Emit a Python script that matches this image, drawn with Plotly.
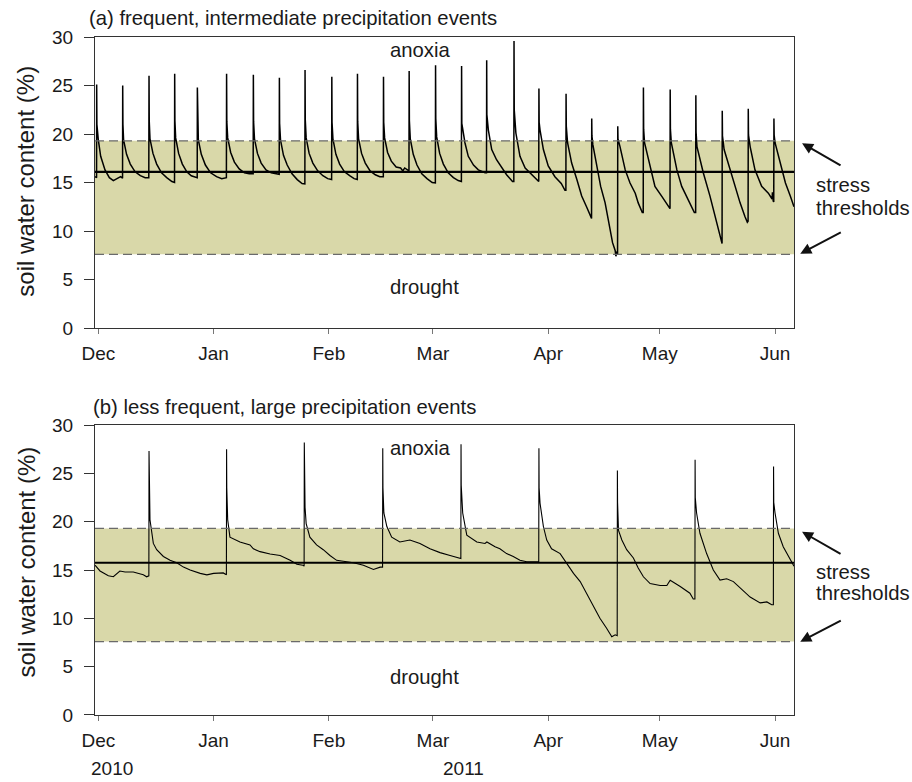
import numpy as np
import pandas as pd
import plotly.graph_objects as go

# ---------------- data (days since 2010-12-01, soil water content %) ----------------
a_day = [
    -0.89, -0.47, -0.44, -0.38, 0.0, 0.64, 1.8, 2.97, 4.05, 5.4, 6.0, 6.52,
    6.56, 6.62, 6.8, 7.6, 8.6, 9.9, 11.3, 12.6, 13.58,
    13.64, 13.7, 13.9, 14.7, 15.7, 17.0, 18.4, 19.8, 20.5,
    20.54, 20.6, 20.8, 21.6, 22.6, 23.8, 25.0, 26.0, 26.6,
    26.64, 26.7, 26.9, 27.7, 28.8, 30.2, 31.8, 33.2, 34.45,
    34.5, 34.56, 34.8, 35.6, 36.6, 37.9, 39.3, 40.6, 41.65,
    41.7, 41.76, 42.0, 42.8, 43.8, 45.1, 46.5, 47.7, 48.65,
    48.7, 48.76, 49.0, 49.8, 50.8, 52.1, 53.5, 54.8, 55.55,
    55.6, 55.66, 55.9, 56.7, 57.7, 59.0, 60.4, 61.7, 62.75,
    62.8, 62.86, 63.1, 63.9, 64.9, 66.2, 67.6, 68.8, 69.65,
    69.7, 69.76, 70.0, 70.8, 71.8, 73.1, 74.5, 75.7, 76.65,
    76.7, 76.76, 77.0, 77.8, 78.8, 80.1, 81.3, 81.9, 82.4, 83.55,
    83.6, 83.66, 83.9, 84.7, 85.7, 87.0, 88.4, 89.8, 90.65,
    90.7, 90.76, 91.0, 91.8, 92.8, 94.1, 95.5, 96.8, 97.65,
    97.7, 97.76, 98.6, 99.5, 100.9, 102.2, 104.0, 104.4,
    104.45, 104.5, 104.9, 105.8, 107.1, 108.0, 109.8, 111.4, 111.75,
    111.8, 111.86, 112.3, 113.4, 114.8, 116.1, 118.2, 118.45,
    118.5, 118.56, 118.8, 119.7, 121.0, 122.8, 124.5, 125.5, 125.75,
    125.8, 125.86, 126.2, 127.3, 128.7, 130.0, 131.3, 132.4, 132.65,
    132.7, 132.76, 133.0, 133.9, 135.1, 136.3, 137.4, 138.3, 139.0, 139.2, 139.5, 139.65,
    139.7, 139.76, 140.3, 141.7, 143.0, 144.4, 145.2, 146.3, 146.55,
    146.6, 146.66, 146.9, 148.4, 149.7, 151.5, 153.3, 153.75,
    153.8, 153.86, 154.1, 155.6, 156.9, 158.7, 160.3, 160.65,
    160.7, 160.76, 161.0, 162.7, 164.5, 165.9, 166.8, 167.6, 167.75,
    167.8, 167.86, 168.3, 169.9, 171.2, 172.6, 173.9, 174.55, 174.75,
    174.8, 174.86, 175.3, 176.6, 178.4, 180.2, 181.2, 181.3, 181.5, 181.65,
    181.7, 181.76, 182.0, 183.4, 184.8, 186.1, 187.1,
]
a_swc = [
    15.6, 15.5, 25.1, 21.0, 19.4, 17.7, 16.3, 15.5, 15.2, 15.5, 15.6, 15.45,
    25.0, 21.0, 19.4, 17.9, 16.9, 16.1, 15.7, 15.5, 15.5,
    26.0, 21.3, 19.5, 18.0, 16.9, 16.0, 15.5, 15.1, 15.0,
    26.2, 21.4, 19.6, 18.0, 16.9, 16.1, 15.7, 15.6, 15.5,
    24.8, 21.0, 19.4, 17.9, 16.8, 16.0, 15.6, 15.4, 15.5,
    26.2, 21.3, 19.6, 18.1, 17.1, 16.4, 16.0, 15.9, 15.9,
    26.1, 21.3, 19.5, 18.0, 17.0, 16.3, 16.0, 15.9, 15.85,
    25.8, 21.1, 19.4, 17.8, 16.8, 15.9, 15.3, 14.9, 14.85,
    26.6, 21.5, 19.6, 18.0, 17.0, 16.2, 15.7, 15.4, 15.3,
    25.9, 21.2, 19.5, 17.9, 16.9, 16.1, 15.7, 15.4, 15.3,
    26.2, 21.3, 19.5, 18.0, 17.0, 16.2, 15.8, 15.6, 15.6,
    25.9, 21.2, 19.6, 18.1, 17.2, 16.6, 16.5, 16.2, 16.5, 16.2,
    26.5, 21.4, 19.5, 17.9, 16.8, 15.9, 15.4, 15.0, 14.95,
    27.1, 21.6, 19.7, 18.0, 16.9, 16.0, 15.5, 15.2, 15.1,
    27.0, 21.1, 19.1, 17.7, 16.8, 16.3, 16.0, 16.0,
    27.6, 22.0, 20.4, 18.4, 17.35, 16.8, 15.8, 15.1, 15.1,
    29.6, 22.5, 20.1, 17.7, 16.5, 16.0, 15.1, 15.1,
    24.7, 21.2, 20.4, 18.4, 16.7, 15.6, 14.9, 14.2, 14.2,
    24.15, 20.8, 19.1, 17.0, 15.3, 13.6, 12.5, 11.5, 11.3,
    21.6, 19.8, 18.9, 17.0, 14.6, 12.9, 10.8, 8.8, 8.0, 7.4, 7.9, 7.6,
    20.8, 19.5, 18.7, 16.3, 14.95, 13.9, 12.9, 11.9, 11.9,
    24.8, 20.5, 19.1, 16.7, 14.6, 13.6, 12.5, 12.3,
    24.6, 20.5, 19.1, 16.3, 14.6, 13.2, 11.9, 11.9,
    24.0, 20.2, 18.7, 16.0, 13.6, 11.5, 10.1, 8.76, 8.7,
    22.4, 19.8, 18.4, 16.3, 14.6, 12.9, 11.5, 10.9, 11.0,
    22.6, 19.9, 18.7, 16.3, 14.6, 13.9, 13.3, 14.0, 13.1, 13.0,
    21.6, 19.9, 19.1, 17.0, 14.95, 13.6, 12.5,
]

b_day = [
    -0.89, 0.46, 2.7, 4.05, 5.8, 7.2, 9.4, 12.1, 13.0, 13.6,
    13.64, 13.69, 13.75, 13.9, 14.8, 15.7, 17.5, 19.3, 21.1, 22.9, 24.7, 27.4, 29.2, 31.0, 33.6, 34.45,
    34.5, 34.55, 34.8, 35.4, 38.1, 40.8, 41.7, 43.5, 46.2, 48.9, 51.6, 53.4, 55.0, 55.35,
    55.4, 55.45, 55.6, 55.9, 56.9, 58.7, 60.5, 62.3, 64.1, 65.9, 68.6, 71.3, 74.0, 75.8, 76.45,
    76.5, 76.55, 76.8, 77.6, 78.9, 81.1, 83.8, 86.5, 89.2, 91.9, 94.6, 96.8, 97.5,
    97.55, 97.6, 98.0, 99.1, 101.8, 104.0, 104.5, 106.7, 108.0, 109.8, 111.6, 113.4, 115.2, 117.9, 118.45,
    118.5, 118.55, 118.8, 119.7, 120.6, 121.9, 124.2, 126.0, 127.8, 129.6, 131.3, 133.1, 134.9, 136.7, 138.1, 139.0, 139.55,
    139.6, 139.65, 139.9, 140.8, 142.1, 143.9, 145.2, 146.6, 148.4, 151.1, 152.9, 153.8, 156.5, 159.1, 160.0, 160.45,
    160.5, 160.55, 160.9, 161.8, 163.6, 165.4, 167.2, 169.0, 170.8, 173.5, 175.3, 178.0, 179.8, 181.1, 181.55,
    181.6, 181.65, 182.0, 182.9, 184.2, 185.6, 186.9, 187.1,
]
b_swc = [
    15.5, 14.9, 14.4, 14.3, 14.9, 14.8, 14.8, 14.5, 14.3, 14.4,
    27.3, 23.5, 22.0, 20.2, 17.75, 17.1, 16.4, 16.0, 15.75, 15.3, 15.0, 14.65, 14.5, 14.65, 14.7, 14.5,
    27.5, 23.5, 20.2, 18.4, 17.9, 17.6, 17.2, 16.9, 16.65, 16.5, 16.0, 15.6, 15.5, 15.4,
    28.2, 24.0, 21.5, 19.8, 18.4, 17.6, 17.1, 16.5, 16.0, 15.9, 15.75, 15.5, 15.05, 15.3, 15.3,
    27.6, 23.5, 20.9, 19.5, 18.4, 17.9, 18.1, 17.75, 17.2, 16.8, 16.5, 16.25, 16.2,
    28.0, 23.8, 20.9, 18.6, 17.9, 17.75, 17.9, 17.4, 17.2, 16.7, 16.4, 16.0, 15.85, 15.85, 15.85,
    27.6, 23.5, 21.9, 19.5, 18.1, 17.2, 16.7, 15.7, 14.65, 13.8, 12.6, 11.2, 10.0, 8.97, 8.1, 8.3, 8.2,
    25.3, 22.0, 19.1, 18.1, 17.1, 16.25, 15.2, 14.3, 13.6, 13.4, 13.4, 13.95, 13.3, 12.6, 12.0, 12.0,
    26.4, 22.5, 20.9, 18.8, 16.7, 15.0, 13.95, 14.1, 13.8, 12.9, 12.2, 11.6, 11.7, 11.4, 11.4,
    25.7, 22.0, 20.9, 18.8, 17.4, 16.4, 15.5, 15.4,
]

month_ticks = ["2010-12-01", "2011-01-01", "2011-02-01", "2011-03-01",
               "2011-04-01", "2011-05-01", "2011-06-01"]
month_labels = ["Dec", "Jan", "Feb", "Mar", "Apr", "May", "Jun"]
y_ticks = [0, 5, 10, 15, 20, 25, 30]

upper_threshold = 19.3
lower_threshold = 7.6
mean_a = 16.1
mean_b = 15.75

x_range = ["2010-11-30 02:40", "2011-06-06 02:20"]

# ---------------- figure ----------------
base = pd.Timestamp("2010-12-01")
a_x = base + pd.to_timedelta(np.array(a_day), unit="D")
b_x = base + pd.to_timedelta(np.array(b_day), unit="D")

FONT = "Liberation Sans, Arial, sans-serif"
TXT = "#1a1a1a"
band_color = "#d9d8a9"
dash_color = "#6a6a6a"

fig = go.Figure()
fig.add_trace(go.Scatter(x=a_x, y=a_swc, mode="lines",
                         line=dict(color="black", width=1.5),
                         xaxis="x", yaxis="y", showlegend=False))
fig.add_trace(go.Scatter(x=b_x, y=b_swc, mode="lines",
                         line=dict(color="black", width=1.1),
                         xaxis="x2", yaxis="y2", showlegend=False))

shapes = []
for xr, yr, mean in (("x", "y", mean_a), ("x2", "y2", mean_b)):
    shapes.append(dict(type="rect", xref=f"{xr} domain", yref=yr,
                       x0=0, x1=1, y0=lower_threshold, y1=upper_threshold,
                       fillcolor=band_color, line=dict(width=0), layer="below"))
    for th in (upper_threshold, lower_threshold):
        shapes.append(dict(type="line", xref=f"{xr} domain", yref=yr,
                           x0=0, x1=1, y0=th, y1=th,
                           line=dict(color=dash_color, width=1.3, dash="9px,5px"),
                           layer="above"))
    shapes.append(dict(type="line", xref=f"{xr} domain", yref=yr,
                       x0=0, x1=1, y0=mean, y1=mean,
                       line=dict(color="black", width=2.2), layer="above"))

tf = dict(family=FONT, size=19, color=TXT)
lab = dict(family=FONT, size=20.3, color=TXT)
ann = []
ann.append(dict(text="(a) frequent, intermediate precipitation events", xref="paper", yref="paper",
                x=-0.011, y=1.028, xanchor="left", yanchor="middle", showarrow=False, font=lab))
ann.append(dict(text="(b) less frequent, large precipitation events", xref="paper", yref="paper",
                x=-0.006, y=0.4547, xanchor="left", yanchor="middle", showarrow=False, font=lab))
for yr, yc in (("y", 0.503), ("y2", 0.526)):
    ann.append(dict(text="soil water content (%)", xref="paper", yref=f"{yr} domain",
                    x=-0.0987, y=yc, xanchor="center", yanchor="middle", textangle=-90,
                    showarrow=False, font=dict(family=FONT, size=24, color=TXT)))
ann.append(dict(text="anoxia", xref="x domain", yref="y domain", x=0.465, y=(328 - 50) / 291,
                xanchor="center", yanchor="middle", showarrow=False, font=lab))
ann.append(dict(text="drought", xref="x domain", yref="y domain", x=0.472, y=(328 - 287) / 291,
                xanchor="center", yanchor="middle", showarrow=False, font=lab))
ann.append(dict(text="anoxia", xref="x2 domain", yref="y2 domain", x=0.465, y=(715 - 448) / 290,
                xanchor="center", yanchor="middle", showarrow=False, font=lab))
ann.append(dict(text="drought", xref="x2 domain", yref="y2 domain", x=0.472, y=(715 - 677) / 290,
                xanchor="center", yanchor="middle", showarrow=False, font=lab))
# stress threshold labels and arrows
for xr, yr, ys, yt, up, lo in (("x", "y", 0.4914, 0.4124, 19.05, 7.66),
                               ("x2", "y2", 0.4941, 0.4207, 18.95, 7.58)):
    ann.append(dict(text="stress", xref=f"{xr} domain", yref=f"{yr} domain", x=1.029, y=ys,
                    xanchor="left", yanchor="middle", showarrow=False, font=lab))
    ann.append(dict(text="thresholds", xref=f"{xr} domain", yref=f"{yr} domain", x=1.029, y=yt,
                    xanchor="left", yanchor="middle", showarrow=False, font=lab))
    ann.append(dict(text="", xref=f"{xr} domain", yref=yr, x=1.0115, y=up,
                    ax=40, ay=23, axref="pixel", ayref="pixel", showarrow=True,
                    arrowhead=2, arrowsize=1.1, arrowwidth=2, arrowcolor="#111"))
    ann.append(dict(text="", xref=f"{xr} domain", yref=yr, x=1.009, y=lo,
                    ax=42, ay=-22, axref="pixel", ayref="pixel", showarrow=True,
                    arrowhead=2, arrowsize=1.1, arrowwidth=2, arrowcolor="#111"))
ann.append(dict(text="2010", xref="paper", yref="paper", x=0.0239, y=-0.0796,
                xanchor="center", yanchor="middle", showarrow=False, font=tf))
ann.append(dict(text="2011", xref="paper", yref="paper", x=0.5265, y=-0.0796,
                xanchor="center", yanchor="middle", showarrow=False, font=tf))

xaxis_common = dict(type="date", range=x_range, tickvals=month_ticks, ticktext=month_labels,
                    ticks="outside", ticklen=5, tickcolor="#777", tickwidth=1.3,
                    showline=True, linecolor="#333", linewidth=1.3, mirror=True,
                    showgrid=False, zeroline=False, tickfont=tf, ticklabelstandoff=3)
yaxis_common = dict(range=[0, 30], tickvals=y_ticks, ticks="outside", ticklen=10,
                    tickcolor="#333", tickwidth=1.3,
                    showline=True, linecolor="#333", linewidth=1.3, mirror=True,
                    showgrid=False, zeroline=False, tickfont=tf, ticklabelstandoff=7)

fig.update_layout(
    width=912, height=782,
    margin=dict(l=95, r=118, t=37, b=67),
    paper_bgcolor="white", plot_bgcolor="white",
    xaxis=dict(anchor="y", domain=[0, 1], **xaxis_common),
    yaxis=dict(anchor="x", domain=[0.5708, 1], **yaxis_common),
    xaxis2=dict(anchor="y2", domain=[0, 1], **xaxis_common),
    yaxis2=dict(anchor="x2", domain=[0, 0.4277], **yaxis_common),
    shapes=shapes, annotations=ann, showlegend=False,
)

fig.write_html("out.html")
